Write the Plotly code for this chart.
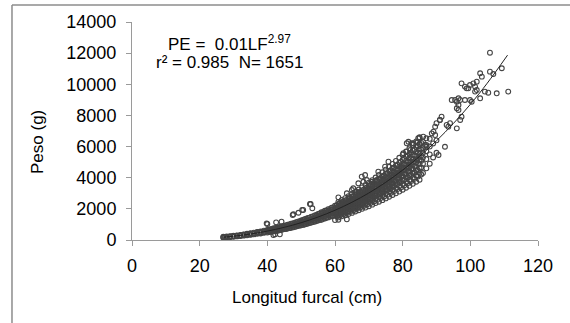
import plotly.graph_objects as go

# ---- data ----
# dense band of observations: fork length (cm) -> list of weights (g)
band_lf = [27, 27.5, 28, 29, 30, 31, 32, 33, 34, 35, 36, 37, 38, 39, 40, 40.5, 41, 41.5, 42, 42.5,
           43, 43.5, 44, 44.5, 45, 45.5, 46, 46.5, 47, 47.5, 48, 48.5, 49, 49.5, 50, 50.5, 51, 51.5,
           52, 52.5, 53, 53.5, 54, 54.5, 55, 55.5, 56, 56.5, 57, 57.5, 58, 58.5, 59, 59.5, 60, 60.5,
           61, 61.5, 62, 62.5, 63, 63.5, 64, 64.5, 65, 65.5, 66, 66.5, 67, 67.5, 68, 68.5, 69, 69.5,
           70, 70.5, 71, 71.5, 72, 72.5, 73, 73.5, 74, 74.5, 75, 75.5, 76, 76.5, 77, 77.5, 78, 78.5,
           79, 79.5, 80, 80.5, 81, 81.5, 82, 82.5, 83, 83.5, 84, 84.5, 85, 85.5, 86, 87, 88, 89, 90]
band_peso = [
    [150, 180, 210], [170, 200], [170, 200, 230], [190, 220, 250, 200], [210, 245, 280, 260],
    [230, 270, 300, 250], [260, 300, 330, 280], [280, 320, 360, 340], [300, 350, 400, 370],
    [330, 390, 440, 360, 410], [360, 420, 470, 400], [400, 450, 510, 480], [420, 490, 550, 460, 520],
    [460, 530, 600, 500], [480, 570, 650, 540, 620], [510, 600, 670], [520, 620, 700, 580],
    [540, 640, 720], [560, 660, 750, 620], [580, 690, 770], [600, 710, 800, 680], [620, 740, 820],
    [650, 760, 860, 720], [670, 790, 880], [700, 810, 920, 780, 860], [710, 840, 940],
    [740, 870, 980, 820], [760, 900, 1000], [790, 920, 1050, 880], [810, 950, 1070],
    [840, 980, 1100, 940], [860, 1020, 1140], [900, 1050, 1180, 1000], [920, 1080, 1210],
    [950, 1110, 1250, 1050, 1180], [970, 1150, 1280], [1000, 1180, 1330, 1100], [1030, 1210, 1360],
    [1060, 1250, 1420, 1180], [1090, 1290, 1440], [1120, 1320, 1500, 1250], [1160, 1360, 1520],
    [1180, 1400, 1580, 1300], [1220, 1440, 1610], [1250, 1480, 1680, 1380, 1560], [1290, 1520, 1700],
    [1300, 1560, 1780, 1450, 1650], [1360, 1600, 1790], [1380, 1640, 1880, 1520, 1750],
    [1430, 1680, 1890], [1450, 1730, 1980, 1600, 1850], [1510, 1770, 1980],
    [1520, 1820, 2080, 1700, 1950], [1580, 1860, 2090], [1600, 1910, 2200, 1780, 2050, 1700],
    [1510, 1660, 1820, 1940, 2080, 2230],
    [1450, 1610, 1730, 1830, 1930, 2010, 2090, 2190, 2310, 2450],
    [1580, 1750, 1910, 2040, 2180, 2350],
    [1520, 1690, 1810, 1920, 2020, 2110, 2190, 2300, 2420, 2570],
    [1660, 1830, 2010, 2140, 2290, 2460],
    [1590, 1770, 1900, 2010, 2120, 2210, 2300, 2410, 2540, 2690],
    [1740, 1920, 2100, 2240, 2400, 2580],
    [1670, 1850, 1990, 2110, 2220, 2320, 2410, 2520, 2660, 2820],
    [1820, 2010, 2200, 2350, 2510, 2700],
    [1740, 1940, 2080, 2200, 2330, 2420, 2520, 2640, 2790, 2960],
    [1910, 2110, 2310, 2460, 2630, 2830],
    [1830, 2030, 2180, 2310, 2430, 2540, 2640, 2760, 2920, 3090],
    [2000, 2210, 2410, 2570, 2750, 2960],
    [1910, 2120, 2280, 2410, 2550, 2650, 2760, 2890, 3050, 3240],
    [2090, 2310, 2520, 2690, 2870, 3090],
    [2000, 2220, 2380, 2520, 2660, 2770, 2880, 3020, 3190, 3380],
    [2180, 2410, 2630, 2800, 3000, 3230],
    [2080, 2320, 2490, 2630, 2780, 2890, 3010, 3150, 3330, 3530],
    [2280, 2510, 2750, 2930, 3130, 3370],
    [2170, 2420, 2600, 2750, 2900, 3020, 3140, 3290, 3470, 3680],
    [2380, 2620, 2870, 3050, 3270, 3520],
    [2270, 2520, 2710, 2870, 3020, 3150, 3280, 3430, 3620, 3840],
    [2480, 2740, 2990, 3190, 3410, 3670],
    [2370, 2630, 2830, 2990, 3150, 3290, 3420, 3580, 3780, 4010],
    [2580, 2850, 3120, 3320, 3550, 3820],
    [2460, 2740, 2940, 3110, 3280, 3420, 3560, 3730, 3930, 4170],
    [2690, 2970, 3250, 3460, 3700, 3980],
    [2560, 2850, 3060, 3240, 3420, 3560, 3700, 3880, 4100, 4350],
    [2800, 3090, 3380, 3600, 3850, 4140],
    [2670, 2970, 3190, 3370, 3560, 3710, 3860, 4040, 4260, 4520],
    [2910, 3210, 3520, 3740, 4010, 4310],
    [2780, 3080, 3320, 3510, 3700, 3860, 4010, 4200, 4430, 4700],
    [3030, 3340, 3660, 3890, 4170, 4480],
    [2890, 3210, 3450, 3650, 3850, 4010, 4170, 4370, 4610, 4890],
    [3150, 3470, 3800, 4050, 4330, 4660],
    [3000, 3330, 3580, 3790, 4000, 4170, 4330, 4540, 4790, 5080],
    [3270, 3610, 3950, 4200, 4500, 4840],
    [3110, 3460, 3720, 3930, 4150, 4320, 4500, 4710, 4970, 5280],
    [3390, 3750, 4100, 4360, 4670, 5020],
    [3230, 3590, 3860, 4090, 4310, 4490, 4670, 4890, 5160, 5480],
    [3520, 3890, 4260, 4530, 4850, 5220],
    [3360, 3730, 4010, 4240, 4470, 4660, 4850, 5080, 5360, 5690],
    [3650, 4030, 4410, 4700, 5030, 5410],
    [3480, 3860, 4150, 4400, 4640, 4830, 5020, 5260, 5550, 5890],
    [3790, 4180, 4580, 4870, 5220, 5610],
    [3610, 4010, 4310, 4560, 4810, 5010, 5210, 5460, 5760, 6110],
    [3930, 4340, 4740, 5050, 5410, 5810],
    [3740, 4150, 4470, 4720, 4980, 5190, 5400, 5660, 5970, 6330],
    [4070, 4490, 4910, 5230, 5600, 6020],
    [3870, 4300, 4620, 4890, 5160, 5370, 5590, 5860, 6180, 6560],
    [4210, 4650, 5090, 5420, 5800, 6240],
    [4300, 4900, 5300, 5600, 5900, 6300], [4600, 5200, 5700, 6100], [4900, 5500, 6000, 6500],
    [5300, 6200], [5600, 6400],
]

# scattered individual points away from the band
out_lf = [39.8, 42.6, 44.2, 47.7, 49.2, 50.6, 52.6, 53.3, 52.8, 47.5, 50.3, 40.0,
          42.3, 43.7, 41.8, 60.0, 61.0, 63.5, 61.0, 61.5, 63.5, 62.5, 65.0, 65.4, 66.4,
          67.9, 68.9, 69.4, 70.9, 72.8, 74.8, 75.8, 72.3, 68.4, 66.9, 80.2, 81.2, 81.2,
          81.7, 83.2, 84.3, 84.6, 82.2, 82.7, 85.0, 86.1, 87.0, 86.6, 87.1, 88.6, 89.1,
          89.6, 90.0, 89.6, 90.6, 91.0, 91.5, 92.5, 93.0, 93.5, 94.0, 94.5, 95.5, 96.0,
          96.0, 96.5, 96.5, 96.5, 97.0, 97.0, 97.4, 97.4, 98.4, 98.4, 98.9, 99.4, 99.9,
          99.9, 100.4, 100.9, 101.4, 101.4, 101.9, 101.9, 102.9, 102.9, 103.4, 104.3,
          105.3, 105.8, 105.8, 106.8, 107.8, 109.3, 111.2, 96.0, 91.0, 57.8, 59.0]
out_peso = [1070, 1135, 1180, 1650, 1750, 1930, 2310, 2035, 2312, 1606, 1927, 1028,
            365, 365, 320, 1280, 1300, 1330, 2740, 2400, 3000, 2460, 3210, 3320, 3100,
            4070, 4170, 3850, 3740, 4390, 4710, 5030, 3850, 3740, 3640, 5570, 5670, 6210,
            6310, 6210, 6270, 6530, 5780, 6210, 6600, 6640, 6530, 6100, 5990, 6850, 6960,
            6740, 7500, 7280, 5460, 7710, 7920, 5990, 7390, 7280, 7500, 8990, 8990, 8880,
            8460, 9100, 8670, 8350, 8990, 7710, 7920, 10060, 8990, 9850, 9740, 9740, 9950,
            8990, 8880, 10060, 9850, 9530, 10170, 9630, 10710, 9100, 10490, 9530,
            9460, 12030, 10810, 10660, 9420, 11030, 9530, 7170, 7710, 1600, 1710]

# fitted curve PE = 0.01 LF^2.97
fit_lf = [27, 30, 35, 40, 45, 50, 55, 60, 65, 70, 75, 80, 85, 90, 95, 100, 105, 111]
fit_peso = [178, 244, 385, 573, 813, 1111, 1476, 1910, 2423, 3019, 3707, 4490, 5374,
            6371, 7485, 8710, 10071, 11871]

x_ticks = [0, 20, 40, 60, 80, 100, 120]
y_ticks = [0, 2000, 4000, 6000, 8000, 10000, 12000, 14000]

# ---- build ----
xs, ys = [], []
for lf, ws in zip(band_lf, band_peso):
    for w in ws:
        xs.append(lf)
        ys.append(w)
xs += out_lf
ys += out_peso

FONT = "Liberation Sans, Arial, sans-serif"
AXIS_GREY = "#9a9a9a"

fig = go.Figure()
fig.add_trace(go.Scatter(
    x=xs, y=ys, mode="markers",
    marker=dict(symbol="circle-open", size=4.8, color="#444444",
                line=dict(color="#444444", width=1.1)),
    showlegend=False, hoverinfo="skip"))
fig.add_trace(go.Scatter(
    x=fit_lf, y=fit_peso, mode="lines",
    line=dict(color="#222222", width=1, shape="spline"),
    showlegend=False, hoverinfo="skip"))

axis_common = dict(showgrid=False, zeroline=False, showline=True, linecolor=AXIS_GREY,
                   linewidth=1, ticks="outside", ticklen=5, tickcolor=AXIS_GREY, tickwidth=1,
                   tickfont=dict(family=FONT, size=18, color="#000"))

fig.update_layout(
    width=570, height=323,
    margin=dict(l=132, r=32, t=22, b=83),
    paper_bgcolor="white", plot_bgcolor="white",
    xaxis=dict(range=[0, 120], tickvals=x_ticks, ticktext=[str(v) for v in x_ticks],
               ticklabelstandoff=4, **axis_common),
    yaxis=dict(range=[0, 14000], tickvals=y_ticks, ticktext=[str(v) for v in y_ticks],
               ticklabelstandoff=6, **axis_common),
    font=dict(family=FONT, color="#000"),
    annotations=[
        dict(text="PE =&nbsp; 0.01LF<sup>2.97</sup>", x=28.7, y=12650, xref="x", yref="y",
             showarrow=False, font=dict(size=17, family=FONT), xanchor="center", yanchor="middle"),
        dict(text="r² = 0.985&nbsp; N= 1651", x=28.7, y=11430, xref="x", yref="y",
             showarrow=False, font=dict(size=17, family=FONT), xanchor="center", yanchor="middle"),
        dict(text="Longitud furcal (cm)", x=0.431, y=-0.2615, xref="paper", yref="paper",
             showarrow=False, font=dict(size=17, family=FONT), xanchor="center", yanchor="middle"),
        dict(text="Peso (g)", x=-0.234, y=0.4495, xref="paper", yref="paper", textangle=-90,
             showarrow=False, font=dict(size=17, family=FONT), xanchor="center", yanchor="middle"),
    ],
    shapes=[
        dict(type="line", xref="paper", yref="paper", x0=-0.2956, x1=1.2, y0=1.078, y1=1.078,
             line=dict(color="#8c8c8c", width=1.5)),
        dict(type="line", xref="paper", yref="paper", x0=-0.2956, x1=-0.2956, y0=-0.5, y1=1.078,
             line=dict(color="#8c8c8c", width=1.5)),
    ],
)

fig.write_html("out.html")
